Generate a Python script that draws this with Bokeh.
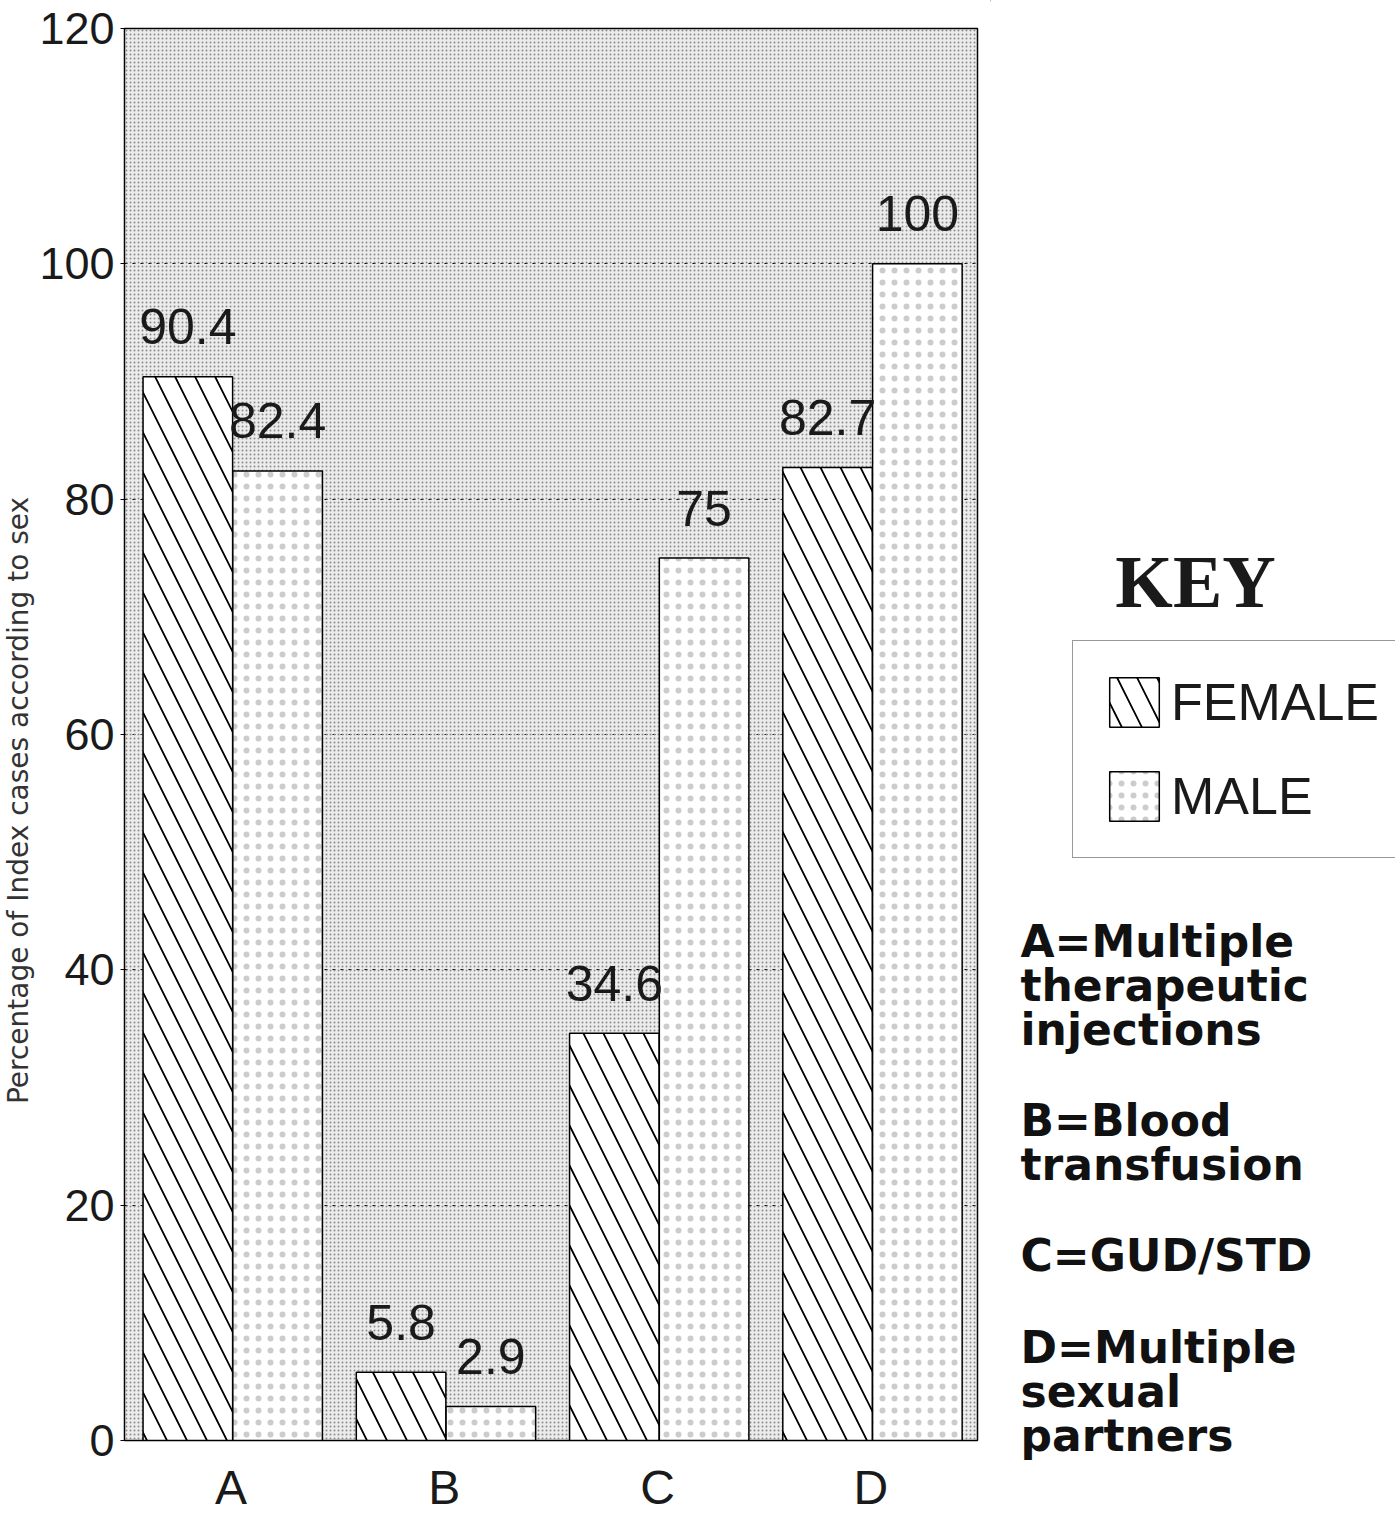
import math
from bokeh.plotting import figure
from bokeh.layouts import row, column
from bokeh.models import ColumnDataSource, FixedTicker, Label, BoxAnnotation, Range1d, Legend, LegendItem
from bokeh.transform import dodge
from bokeh.core.properties import value
from bokeh.embed import file_html
from bokeh.resources import INLINE

# ---- data ----
categories = ["A", "B", "C", "D"]
female = [90.4, 5.8, 34.6, 82.7]
male = [82.4, 2.9, 75, 100]
female_text = ["90.4", "5.8", "34.6", "82.7"]
male_text = ["82.4", "2.9", "75", "100"]
y_ticks = [0, 20, 40, 60, 80, 100, 120]
series_names = ["FEMALE", "MALE"]
key_title = "KEY"
key_lines = ["A=Multiple", "therapeutic", "injections",
             "B=Blood", "transfusion",
             "C=GUD/STD",
             "D=Multiple", "sexual", "partners"]
y_label = "Percentage of Index cases according to sex"

H = 1516
LEFT_W, MAIN_W = 36, 954
RIGHT_W = 1395 - LEFT_W - MAIN_W

FEMALE_STYLE = dict(fill_color="white", line_color="black", line_width=1.5,
                    hatch_pattern="\\", hatch_scale=40, hatch_weight=1.8, hatch_color="black")
MALE_STYLE = dict(fill_color="white", line_color="black", line_width=1.5,
                  hatch_pattern="dot", hatch_scale=12, hatch_weight=1, hatch_color="#cccccc")

# ---------- left strip: y-axis title ----------
left = figure(width=LEFT_W, height=H, x_range=Range1d(0, LEFT_W), y_range=Range1d(H, 0),
              output_backend="svg", toolbar_location=None, x_axis_location=None,
              y_axis_location=None, min_border=0, outline_line_color=None,
              background_fill_color="white", border_fill_color="white")
left.grid.grid_line_color = None
left.add_layout(Label(x=18, y=800, text=y_label, angle=math.pi / 2, text_align="center",
                      text_baseline="middle", text_font="DejaVu Sans", text_font_size="28px",
                      text_color="#333333"))

# ---------- main chart ----------
src = ColumnDataSource(dict(cat=categories, female=female, male=male,
                            ft=female_text, mt=male_text))

p = figure(x_range=categories, y_range=(0, 120), width=MAIN_W, height=H,
           output_backend="svg", toolbar_location=None,
           min_border_left=88, min_border_right=13,
           min_border_top=28, min_border_bottom=75,
           background_fill_color="#ececec", border_fill_color="white",
           outline_line_color="black", outline_line_width=1.5)

p.add_layout(BoxAnnotation(fill_color=None, line_color=None, hatch_pattern="dot",
                           hatch_scale=4, hatch_color="#8c8c8c", hatch_weight=1,
                           level="underlay"))

p.ygrid.ticker = FixedTicker(ticks=y_ticks)
p.ygrid.grid_line_color = "black"
p.ygrid.grid_line_dash = "3 5"
p.ygrid.grid_line_width = 1
p.xgrid.grid_line_color = None

f_x = dodge("cat", -0.203, range=p.x_range)
m_x = dodge("cat", 0.218, range=p.x_range)

p.vbar(x=f_x, top="female", width=0.42, source=src, **FEMALE_STYLE)
p.vbar(x=m_x, top="male", width=0.42, source=src, **MALE_STYLE)

TEXT_STYLE = dict(text_align="center", text_baseline="alphabetic", y_offset=-50,
                  text_font=value("Liberation Sans"), text_font_size="50px",
                  text_color="#1a1a1a")
p.text(x=f_x, y="female", text="ft", source=src, **TEXT_STYLE)
p.text(x=m_x, y="male", text="mt", source=src, **TEXT_STYLE)

p.yaxis.ticker = FixedTicker(ticks=y_ticks)
p.yaxis.major_label_text_font = "Liberation Sans"
p.yaxis.major_label_text_font_size = "45px"
p.yaxis.major_label_text_color = "#1a1a1a"
p.yaxis.major_tick_out = 4
p.yaxis.major_tick_in = 0
p.yaxis.minor_tick_line_color = None
p.yaxis.major_label_standoff = 6
p.yaxis.axis_line_color = "black"

p.xaxis.major_label_text_font = "Liberation Sans"
p.xaxis.major_label_text_font_size = "48px"
p.xaxis.major_label_text_color = "#1a1a1a"
p.xaxis.major_tick_line_color = None
p.xaxis.minor_tick_line_color = None
p.xaxis.major_label_standoff = 14
p.xaxis.axis_line_color = "black"

# ---------- right panel: key ----------
x0 = LEFT_W + MAIN_W
right = figure(width=RIGHT_W, height=H, x_range=Range1d(x0, 1395), y_range=Range1d(H, 0),
               output_backend="svg", toolbar_location=None, x_axis_location=None,
               y_axis_location=None, min_border=0, outline_line_color=None,
               background_fill_color="white", border_fill_color="white")
right.grid.grid_line_color = None

# legend proxies (zero-width, outside the visible range)
proxy = ColumnDataSource(dict(x=[0], top=[0]))
rf = right.vbar(x="x", top="top", width=0, source=proxy, **FEMALE_STYLE)
rm = right.vbar(x="x", top="top", width=0, source=proxy, **MALE_STYLE)
lg = Legend(items=[LegendItem(label=series_names[0], renderers=[rf]),
                   LegendItem(label=series_names[1], renderers=[rm])],
            location=(1072 - x0, H - 858),
            border_line_color="#333333", border_line_width=1.5,
            background_fill_color="white", background_fill_alpha=1,
            glyph_width=62, glyph_height=62, label_height=50, label_standoff=6,
            spacing=32, padding=30, margin=0,
            label_text_font="Liberation Sans", label_text_font_size="52px",
            label_text_color="#1a1a1a")
right.add_layout(lg)

right.add_layout(Label(x=1195, y=581, text=key_title, text_align="center",
                       text_baseline="alphabetic", text_font="Liberation Serif",
                       text_font_style="bold", text_font_size="74px", text_color="#1a1a1a"))

baselines = [941, 985, 1029, 1120, 1164, 1255, 1347, 1391, 1435]
for txt, b in zip(key_lines, baselines):
    right.add_layout(Label(x=1020, y=b, text=txt, text_align="left",
                           text_baseline="alphabetic", text_font="DejaVu Sans",
                           text_font_style="bold", text_font_size="44px",
                           text_color="#111111"))

layout = row(column(left), p, column(right))
open("out.html", "w").write(file_html(layout, INLINE))
